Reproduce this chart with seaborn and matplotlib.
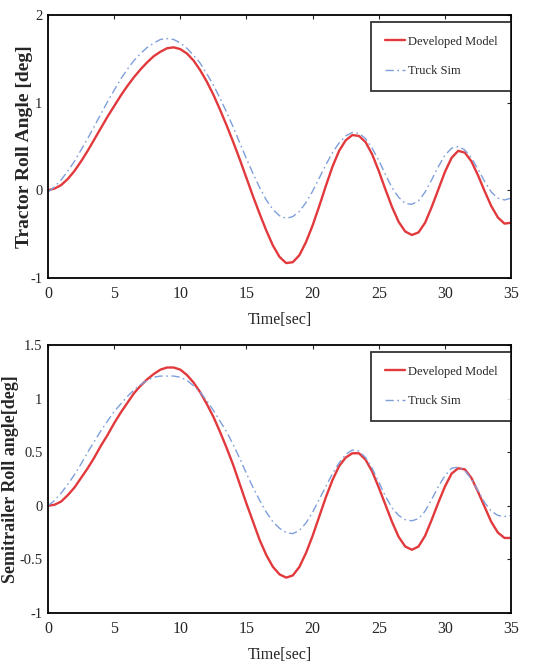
import numpy as np
import pandas as pd
import matplotlib
matplotlib.use("Agg")
import matplotlib.pyplot as plt
import seaborn as sns

# time axis (s)
time_s = [i * 0.5 for i in range(71)]

# Tractor roll angle [deg]
tractor_model = [0.00, 0.02, 0.06, 0.13, 0.22, 0.33, 0.45, 0.58, 0.71, 0.84,
                 0.96, 1.08, 1.19, 1.29, 1.38, 1.46, 1.53, 1.58, 1.62, 1.63,
                 1.61, 1.56, 1.48, 1.37, 1.24, 1.09, 0.92, 0.74, 0.55, 0.35,
                 0.14, -0.07, -0.27, -0.46, -0.63, -0.76, -0.83, -0.82, -0.74, -0.59,
                 -0.40, -0.18, 0.05, 0.27, 0.45, 0.57, 0.63, 0.62, 0.55, 0.41,
                 0.22, 0.01, -0.19, -0.36, -0.47, -0.51, -0.48, -0.37, -0.19, 0.01,
                 0.21, 0.37, 0.45, 0.43, 0.33, 0.17, -0.01, -0.18, -0.31, -0.38,
                 -0.37]
tractor_trucksim = [-0.02, 0.04, 0.12, 0.22, 0.33, 0.46, 0.59, 0.73, 0.87, 1.01,
                    1.14, 1.27, 1.38, 1.48, 1.56, 1.63, 1.68, 1.72, 1.73, 1.72,
                    1.68, 1.62, 1.54, 1.45, 1.33, 1.20, 1.05, 0.89, 0.72, 0.54,
                    0.36, 0.19, 0.03, -0.11, -0.22, -0.29, -0.32, -0.30, -0.24, -0.14,
                    -0.01, 0.14, 0.29, 0.43, 0.54, 0.62, 0.66, 0.65, 0.59, 0.48,
                    0.34, 0.18, 0.03, -0.08, -0.15, -0.16, -0.12, -0.02, 0.12, 0.27,
                    0.40, 0.48, 0.50, 0.46, 0.37, 0.24, 0.10, -0.02, -0.09, -0.11,
                    -0.09]

# Semitrailer roll angle [deg]
trailer_model = [0.00, 0.01, 0.04, 0.10, 0.17, 0.26, 0.35, 0.45, 0.56, 0.66,
                 0.77, 0.87, 0.96, 1.05, 1.12, 1.18, 1.23, 1.27, 1.29, 1.29,
                 1.27, 1.22, 1.15, 1.06, 0.95, 0.83, 0.69, 0.54, 0.38, 0.20,
                 0.02, -0.15, -0.32, -0.46, -0.57, -0.64, -0.67, -0.65, -0.57, -0.44,
                 -0.28, -0.10, 0.08, 0.24, 0.37, 0.45, 0.49, 0.49, 0.43, 0.32,
                 0.17, 0.01, -0.15, -0.29, -0.38, -0.41, -0.38, -0.28, -0.13, 0.03,
                 0.18, 0.30, 0.35, 0.34, 0.26, 0.13, -0.01, -0.15, -0.25, -0.30,
                 -0.30]
trailer_trucksim = [0.00, 0.05, 0.12, 0.20, 0.29, 0.39, 0.50, 0.60, 0.70, 0.79,
                    0.88, 0.95, 1.02, 1.08, 1.13, 1.17, 1.20, 1.21, 1.21, 1.21,
                    1.20, 1.17, 1.12, 1.06, 0.98, 0.89, 0.79, 0.69, 0.57, 0.44,
                    0.30, 0.17, 0.05, -0.06, -0.15, -0.21, -0.25, -0.26, -0.23, -0.16,
                    -0.06, 0.06, 0.18, 0.30, 0.40, 0.48, 0.52, 0.51, 0.45, 0.35,
                    0.22, 0.09, -0.02, -0.09, -0.13, -0.14, -0.12, -0.05, 0.06, 0.18,
                    0.28, 0.35, 0.36, 0.33, 0.25, 0.14, 0.03, -0.05, -0.09, -0.10,
                    -0.09]

series_labels = ["Developed Model", "Truck Sim"]
x_ticks = [0, 5, 10, 15, 20, 25, 30, 35]
top_yticks = [-1, 0, 1, 2]
bot_yticks = [-1, -0.5, 0, 0.5, 1, 1.5]
top_ylabel = "Tractor Roll Angle [deg]"
bot_ylabel = "Semitrailer Roll angle[deg]"
xlabel = "Time[sec]"

sns.set_style("white")
plt.rcParams["font.family"] = ["Liberation Serif", "DejaVu Serif"]

fig = plt.figure(figsize=(5.54, 6.66), dpi=100)
ax1 = fig.add_axes([0.0866, 0.5826, 0.836, 0.395])
ax2 = fig.add_axes([0.0866, 0.0796, 0.836, 0.4024])

red = "#e2393d"
blue = "#7f9fdc"


def draw(ax, model, sim, yticks, ylabel, ylab_x, ylab_size):
    df = pd.DataFrame({"t": time_s, "model": model, "sim": sim})
    sns.lineplot(data=df, x="t", y="model", ax=ax, color=red, linewidth=1.7,
                 label=series_labels[0])
    sns.lineplot(data=df, x="t", y="sim", ax=ax, color=blue, linewidth=1.0,
                 linestyle=(0, (6, 2.5, 1.2, 2.5)), label=series_labels[1])
    ax.set_xlim(0, 35)
    ax.set_ylim(yticks[0], yticks[-1])
    ax.set_xticks(x_ticks)
    ax.set_yticks(yticks)
    ax.set_xticklabels([f"{v:g}" for v in x_ticks])
    ax.set_yticklabels([f"{v:g}" for v in yticks])
    ax.tick_params(axis="x", direction="in", top=True, length=3, width=0.8,
                   labelsize=11.5, pad=6)
    ax.tick_params(axis="y", direction="in", right=True, length=3, width=0.8,
                   labelsize=10.5, pad=4)
    for s in ax.spines.values():
        s.set_color("black")
        s.set_linewidth(1.3)
    ax.set_xlabel(xlabel, fontsize=11.5, labelpad=7)
    ax.set_ylabel(ylabel, fontsize=ylab_size, fontweight="bold")
    ax.yaxis.set_label_coords(ylab_x, 0.5)
    leg = ax.legend(loc="upper right", bbox_to_anchor=(1.0, 1 - 7 / 263),
                    borderaxespad=0.0, fontsize=9, frameon=True, fancybox=False,
                    borderpad=1.1, labelspacing=1.4, handlelength=1.6,
                    handletextpad=0.2)
    leg.get_frame().set_edgecolor("black")
    leg.get_frame().set_linewidth(1.3)


draw(ax1, tractor_model, tractor_trucksim, top_yticks, top_ylabel, -0.032, 14)
draw(ax2, trailer_model, trailer_trucksim, bot_yticks, bot_ylabel, -0.063, 13)

fig.savefig("out.png", dpi=100)
